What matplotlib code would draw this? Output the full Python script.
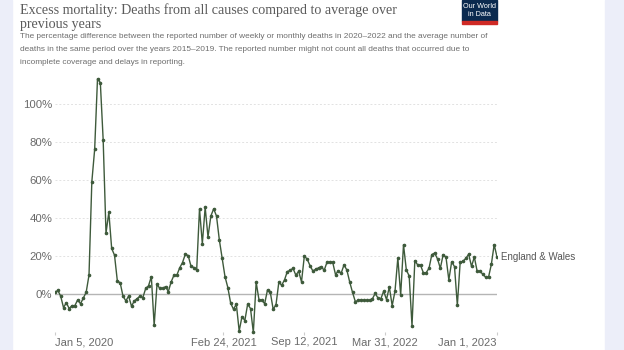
import numpy as np
import pandas as pd
import matplotlib
matplotlib.use("Agg")
import matplotlib.pyplot as plt
import matplotlib.dates as mdates
from matplotlib.patches import Rectangle

# weekly p-scores, England & Wales, week ending Jan 5 2020 .. Jan 1 2023
excess_2020a = [1, 2, -1, -7, -4.5, -7.5, -6, -6, -3, -5, -2, 1, 10, 59, 76,
                113, 111, 81, 32, 43, 24]
excess_2020b = [20.5, 7, 6, -1, -3.5, -1, -6.3, -3.5, -2.3, -1, -1.8, 3, 4.4,
                9.2, -16.3, 5.2, 3, 3, 4, 1.4, 6.5, 10, 10, 13.8, 16.6, 21,
                20.3, 14.7, 14, 12.6, 44.8, 26.5, 45.6, 30, 41, 44.8, 41, 28.5]
excess_2021 = [18.9, 9.2, 3.5, -4.7, -7.9, -5.2, -19.3, -11.7, -13.8, -5.2,
               -7.5, -20, 6.3, -3, -3, -5, 2.3, 0.9, -7.9, -5.5, 6.3, 4.7,
               7.5, 11.9, 12.5, 13.6, 10, 12, 6.5, 20, 18.4, 15, 12.2, 13.1,
               13.8, 14.5, 12.5, 16.8, 16.8, 16.8, 10.3, 12.3, 11, 15.4, 12.7,
               6.5, 1, -3.9, -3.2, -3, -3.2, -3.2, -3.3, -2.5, 0.4, -2, -2.4,
               1.6, -2.8, 3.8, -6, 1.6, 19, -0.4, 26, 12.7, 9.6, -16.6, 17.6,
               15.4]
excess_2022 = [15.2, 11.3, 11.3, 13.6, 20.8, 21.6, 18.5, 13.6, 20.8, 19.4,
               7.5, 17, 14.5, -5.8, 16.7, 17.3, 18.8, 21, 14.6, 19.5, 12, 12,
               10.5, 8.9, 8.9, 15.6, 26, 19.6]
values = excess_2020a + excess_2020b + excess_2021 + excess_2022
dates = pd.date_range("2020-01-05", periods=len(values), freq="7D")

y_ticks = [0, 20, 40, 60, 80, 100]
x_ticks = ["2020-01-05", "2021-02-24", "2021-09-12", "2022-03-31", "2023-01-01"]
x_labels = ["Jan 5, 2020", "Feb 24, 2021", "Sep 12, 2021", "Mar 31, 2022",
            "Jan 1, 2023"]

title_lines = ["Excess mortality: Deaths from all causes compared to average over",
               "previous years"]
subtitle_lines = [
    "The percentage difference between the reported number of weekly or "
    "monthly deaths in 2020\u20132022 and the average number of",
    "deaths in the same period over the years 2015\u20132019. The reported "
    "number might not count all deaths that occurred due to",
    "incomplete coverage and delays in reporting.",
]

W, H = 624, 350
fig = plt.figure(figsize=(W / 100, H / 100), dpi=100)
fig.patch.set_facecolor("white")

# side bands and logo
band = "#eceef9"
fig.patches.append(Rectangle((0, 0), 12 / W, 1, transform=fig.transFigure,
                             color=band, zorder=0))
fig.patches.append(Rectangle((605 / W, 0), 19 / W, 1, transform=fig.transFigure,
                             color=band, zorder=0))
fig.patches.append(Rectangle((462 / W, 1 - 21 / H), 35 / W, 21 / H,
                             transform=fig.transFigure, color="#0b2a4f", zorder=1))
fig.patches.append(Rectangle((462 / W, 1 - 23.5 / H), 35 / W, 2.5 / H,
                             transform=fig.transFigure, color="#cf2a25", zorder=1))
fig.text(479.5 / W, 1 - 10.5 / H, "Our World\nin Data", color="white",
         fontsize=5.2, ha="center", va="center", linespacing=1.0,
         family="Liberation Sans")

# title and subtitle, one text per line
for i, line in enumerate(title_lines):
    fig.text(20 / W, 1 - (10.5 + 14 * i) / H, line, fontsize=10.1,
             color="#5b5b5b", family="Liberation Serif", va="center",
             ha="left")
for i, line in enumerate(subtitle_lines):
    fig.text(20 / W, 1 - (36.5 + 13.2 * i) / H, line, fontsize=5.95,
             color="#6e6e6e", family="Liberation Sans", va="center",
             ha="left")

ax = fig.add_axes([55 / W, 15 / H, 442 / W, 260 / H])
ax.set_facecolor("none")
ax.plot(dates, values, color="#3e5a3b", lw=1.0, marker="o", ms=1.6,
        zorder=3)

ax.set_xlim(dates[0], dates[-1])
ax.set_ylim(-21.4, 115)
for s in ax.spines.values():
    s.set_visible(False)

ax.set_yticks(y_ticks)
ax.set_yticklabels([f"{v}%" for v in y_ticks])
for v in y_ticks:
    if v == 0:
        ax.axhline(0, color="#b5b5b5", lw=1.0, zorder=1)
    else:
        ax.axhline(v, color="#e2e2e2", lw=0.7, ls=(0, (2, 2)), zorder=1)
ax.tick_params(axis="y", length=0, pad=2, labelsize=8.2, labelcolor="#6a6a6a")

ax.set_xticks(pd.to_datetime(x_ticks))
ax.set_xticklabels(x_labels)
ax.tick_params(axis="x", direction="in", length=2.5, color="#cccccc", pad=1.5,
               labelsize=8, labelcolor="#6a6a6a")
labels = ax.get_xticklabels()
labels[0].set_ha("left")
labels[-1].set_ha("right")
for lab in ax.get_xticklabels() + ax.get_yticklabels():
    lab.set_family("Liberation Sans")

ax.annotate("England & Wales", xy=(dates[-1], values[-1]), xytext=(3, 0),
            textcoords="offset points", va="center", ha="left", fontsize=7,
            color="#555555", family="Liberation Sans", annotation_clip=False)

fig.savefig("out.png", dpi=100)
